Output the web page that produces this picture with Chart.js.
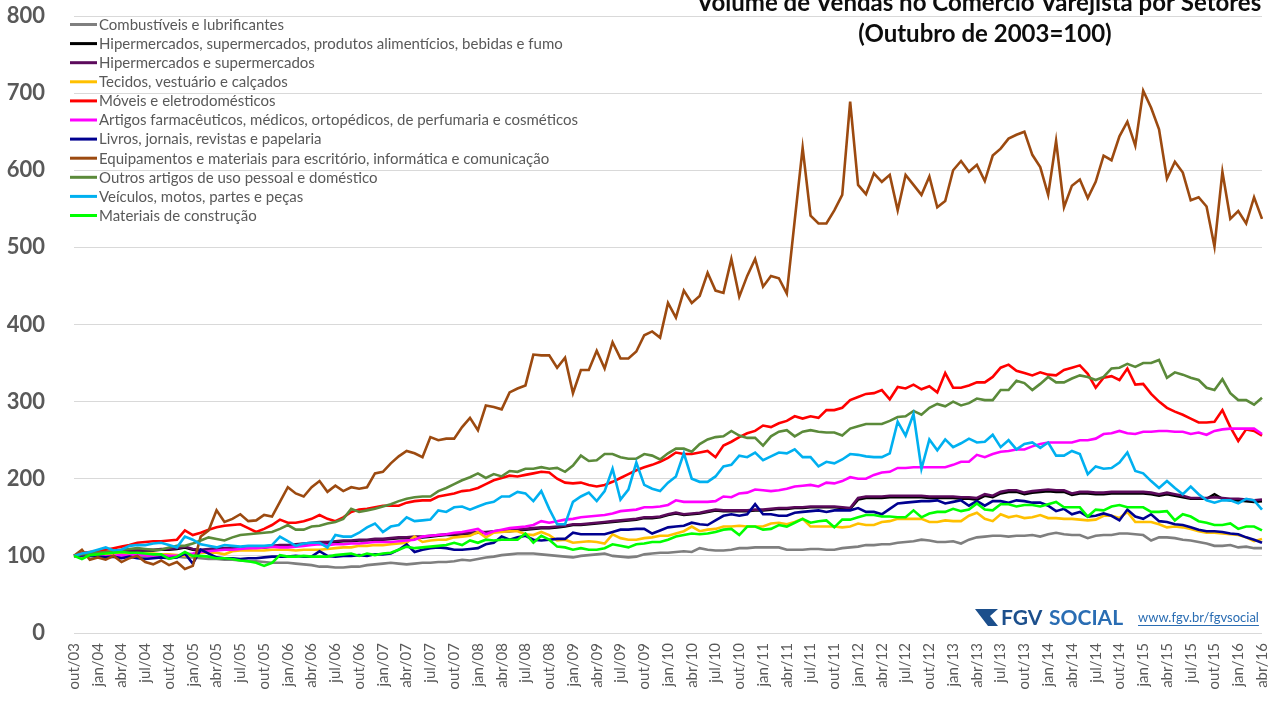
<!DOCTYPE html>
<html>
<head>
<meta charset="utf-8">
<script src="https://cdn.jsdelivr.net/npm/chart.js@4.4.1/dist/chart.umd.min.js"></script>
<style>
  html, body { margin: 0; padding: 0; background: #fff; }
  canvas { display: block; }
</style>
</head>
<body>
<canvas id="chart" width="1283" height="703"></canvas>
<script>
// ── Months: out/03 .. abr/16 ──
const MES = ['jan', 'fev', 'mar', 'abr', 'mai', 'jun', 'jul', 'ago', 'set', 'out', 'nov', 'dez'];
const MONTHS = [];
for (let y = 2003, m = 9; y < 2016 || (y === 2016 && m <= 3); m++) {
  if (m === 12) { m = 0; y++; }
  if (y === 2016 && m > 3) break;
  MONTHS.push(MES[m] + '/' + String(y).slice(2));
}

// ── Series (index, out/2003 = 100) ──
const combustiveis = [
  100,100,101,100,100,99,100,100,100,99,
  100,100,99,99,98,98,97,96,96,95,
  95,94,93,93,92,91,91,91,90,89,
  88,86,86,85,85,86,86,88,89,90,
  91,90,89,90,91,91,92,92,93,95,
  94,96,98,99,101,102,103,103,103,102,
  101,100,99,98,100,101,102,103,100,99,
  98,99,102,103,104,104,105,106,105,110,
  108,107,107,108,110,110,111,111,111,111,
  108,108,108,109,109,108,108,110,111,112,
  114,114,115,115,117,118,119,121,120,118,
  118,119,116,121,124,125,126,126,125,126,
  126,127,125,128,130,128,127,127,123,126,
  127,127,129,129,128,127,120,124,124,123,
  121,120,118,116,113,113,114,111,112,110,
  110
];
const hiperAlimentos = [
  100,101,102,103,104,105,105,106,107,107,
  107,108,108,109,111,108,107,108,109,109,
  109,110,110,111,111,112,113,113,114,115,
  116,117,117,118,119,119,120,120,121,121,
  122,123,123,124,124,125,126,127,127,128,
  129,130,130,131,132,132,133,134,135,136,
  136,137,138,140,140,141,142,143,144,145,
  146,147,149,149,150,153,155,153,154,155,
  157,159,158,158,158,158,159,159,160,161,
  161,162,162,163,163,163,163,162,161,173,
  175,175,175,176,176,176,176,176,175,175,
  175,175,174,174,173,178,176,181,183,183,
  180,182,183,184,183,183,179,181,181,180,
  180,181,181,181,181,181,180,178,180,178,
  176,174,174,174,180,174,172,172,171,170,
  171
];
const hiper = [
  100,101,103,104,105,105,106,107,107,108,
  108,109,109,110,112,109,108,109,110,110,
  110,111,111,112,112,113,114,114,115,116,
  117,118,118,119,120,120,121,121,122,122,
  123,124,124,125,125,126,127,128,128,129,
  130,131,131,132,133,133,134,135,136,137,
  137,138,139,141,141,142,143,144,145,146,
  147,148,150,150,151,154,156,154,155,156,
  158,160,159,159,159,159,160,160,161,162,
  162,163,163,164,164,164,164,163,162,175,
  177,177,177,178,178,178,178,178,177,177,
  177,177,176,176,175,180,178,183,185,185,
  182,184,185,186,185,185,181,183,183,182,
  182,183,183,183,183,183,182,180,182,180,
  178,175,175,175,176,175,174,174,173,172,
  173
];
const tecidos = [
  100,99,100,101,101,103,103,103,103,103,
  103,102,102,101,100,100,104,104,104,102,
  106,107,107,107,107,108,108,108,107,108,
  108,108,109,110,111,111,113,113,114,114,
  115,116,117,125,118,120,121,121,124,125,
  126,131,124,130,131,132,132,128,127,131,
  127,120,121,117,118,119,118,116,128,123,
  121,121,123,124,126,126,129,132,138,132,
  134,135,138,138,139,138,138,138,142,143,
  141,144,148,138,138,138,138,137,138,142,
  140,140,144,145,148,148,148,148,144,144,
  146,145,145,152,156,148,145,154,150,152,
  149,150,153,149,149,148,148,147,146,147,
  152,152,149,157,144,144,144,141,137,138,
  137,135,132,130,130,129,128,127,124,119,
  122
];
const moveis = [
  100,104,105,106,108,110,112,114,117,118,
  119,119,120,121,133,127,130,134,137,139,
  140,141,136,131,135,140,147,143,143,145,
  148,153,148,145,150,157,160,161,163,165,
  165,165,169,171,172,172,177,179,181,184,
  185,188,193,198,201,204,203,205,207,209,
  208,200,195,194,195,192,190,192,196,201,
  206,211,215,218,222,227,234,232,232,234,
  236,228,243,248,254,259,262,269,267,272,
  275,281,278,281,279,289,289,292,302,306,
  310,311,315,303,319,317,322,316,320,312,
  337,318,318,321,325,325,332,344,348,340,
  337,334,338,335,334,341,344,347,336,318,
  331,333,328,343,322,323,310,300,292,287,
  283,278,273,273,274,289,267,249,264,262,
  256
];
const farmaceuticos = [
  100,101,100,101,99,100,101,100,102,101,
  99,101,100,100,102,103,105,106,107,108,
  108,109,110,110,111,112,111,111,112,113,
  114,115,114,115,115,116,116,117,118,118,
  118,119,120,121,125,126,127,128,130,131,
  133,135,128,132,134,136,137,138,140,145,
  143,145,147,148,150,151,152,153,155,158,
  159,160,163,163,164,166,172,170,170,170,
  170,171,177,176,181,182,186,185,184,185,
  187,190,191,192,190,195,194,197,202,200,
  200,205,208,209,214,214,215,215,215,215,
  215,218,222,222,231,228,232,235,236,238,
  238,242,245,247,247,247,247,250,250,252,
  258,259,262,259,258,261,261,262,262,261,
  261,258,260,257,262,264,265,265,265,265,
  258
];
const livros = [
  100,101,100,99,98,99,97,99,97,96,
  97,98,97,98,103,90,108,103,98,97,
  97,96,97,97,98,99,99,99,100,99,
  99,106,100,99,100,100,101,100,102,102,
  103,108,115,105,108,110,111,110,108,108,
  109,110,115,117,125,121,124,126,121,120,
  121,122,122,130,128,128,128,128,131,134,
  134,135,135,129,133,137,138,139,143,141,
  140,146,152,154,152,154,167,154,154,152,
  152,156,157,158,159,157,159,159,159,162,
  157,157,154,161,168,169,170,171,171,172,
  168,170,172,165,171,165,171,171,169,172,
  171,169,169,165,158,161,154,157,151,152,
  155,152,146,160,151,148,154,145,144,141,
  140,137,134,132,132,131,129,128,124,121,
  117
];
const informatica = [
  100,108,95,98,95,100,92,97,100,92,
  89,94,88,92,83,87,125,133,159,144,
  148,154,145,146,153,151,170,189,181,177,
  189,197,183,191,184,189,187,189,207,209,
  220,229,236,233,228,254,250,252,252,267,
  279,263,295,293,290,312,317,321,361,360,
  360,344,357,311,341,341,366,343,377,356,
  356,365,386,391,383,428,409,444,428,437,
  467,444,441,485,436,463,485,449,463,460,
  440,535,629,541,531,531,548,568,689,581,
  569,596,585,594,548,594,581,568,592,552,
  560,600,612,598,607,586,619,628,641,646,
  650,620,604,568,638,552,580,588,564,585,
  619,613,644,663,632,703,681,653,589,611,
  597,561,565,553,501,598,537,547,531,565,
  537
];
const outros = [
  100,102,103,104,105,106,108,109,110,109,
  108,108,111,113,113,116,120,124,122,120,
  124,127,128,129,130,131,135,140,134,134,
  138,139,142,144,148,161,157,159,161,164,
  167,171,174,176,177,177,184,188,193,198,
  202,207,201,206,203,210,209,213,213,215,
  213,214,209,217,230,223,224,232,232,228,
  226,226,232,230,225,233,239,239,235,245,
  251,254,255,262,256,253,253,243,255,261,
  263,255,261,263,261,260,260,256,265,268,
  271,271,271,275,280,281,288,283,292,297,
  294,300,295,298,304,302,302,315,315,327,
  324,315,323,332,325,325,330,334,332,328,
  332,343,344,349,345,350,350,354,331,338,
  335,331,328,318,315,329,311,302,302,296,
  305
];
const veiculos = [
  100,103,105,108,111,107,108,113,114,114,
  116,117,114,111,125,121,115,113,111,114,
  113,112,113,113,113,114,125,119,113,116,
  117,117,111,127,125,125,130,137,142,131,
  138,140,150,145,146,147,159,157,163,164,
  160,164,168,170,177,177,183,181,171,184,
  161,141,141,170,177,182,171,184,213,173,
  186,221,192,187,184,195,203,233,200,196,
  196,203,216,218,230,228,234,224,229,234,
  233,238,228,228,216,222,220,225,232,231,
  229,228,228,233,274,256,284,213,251,237,
  251,241,246,252,247,248,257,241,250,238,
  245,247,240,247,230,230,236,232,206,216,
  213,214,221,234,210,207,197,188,197,188,
  180,190,180,172,169,172,172,168,174,172,
  160
];
const construcao = [
  100,96,101,102,103,104,105,104,104,103,
  102,102,96,99,105,100,100,99,97,97,
  96,94,93,91,87,91,101,99,99,100,
  99,99,99,101,102,103,100,103,101,103,
  104,108,112,110,111,112,113,114,117,114,
  120,117,121,120,121,121,121,129,117,126,
  121,112,111,108,110,108,108,110,115,113,
  111,115,116,118,118,121,125,127,129,128,
  129,131,134,135,127,138,138,134,135,140,
  138,143,148,143,145,146,137,147,147,150,
  153,153,151,151,150,150,159,150,155,157,
  157,161,158,160,168,160,159,167,167,164,
  166,166,164,167,170,163,163,163,151,160,
  159,164,166,163,163,163,157,157,158,146,
  154,151,145,143,140,140,142,135,138,138,
  133
];

const SERIES = [
  ['Combustíveis e lubrificantes', combustiveis, '#7f7f7f'],
  ['Hipermercados, supermercados, produtos alimentícios, bebidas e fumo', hiperAlimentos, '#000000'],
  ['Hipermercados e supermercados', hiper, '#5c0a5c'],
  ['Tecidos, vestuário e calçados', tecidos, '#ffc000'],
  ['Móveis e eletrodomésticos', moveis, '#ff0000'],
  ['Artigos farmacêuticos, médicos, ortopédicos, de perfumaria e cosméticos', farmaceuticos, '#ff00ff'],
  ['Livros, jornais, revistas e papelaria', livros, '#000090'],
  ['Equipamentos e materiais para escritório, informática e comunicação', informatica, '#9c4a10'],
  ['Outros artigos de uso pessoal e doméstico', outros, '#5b8a3a'],
  ['Veículos, motos, partes e peças', veiculos, '#00b0f0'],
  ['Materiais de construção', construcao, '#00ff00']
];

const TITLE_1 = 'Volume de Vendas no Comércio Varejista por Setores';
const TITLE_2 = '(Outubro de 2003=100)';

// ── Title, legend and logo drawn over the chart ──
const overlay = {
  id: 'overlay',
  afterDraw(chart) {
    const c = chart.ctx;
    c.save();
    c.fillStyle = '#0d0d0d';
    c.textAlign = 'center';
    c.textBaseline = 'alphabetic';
    c.font = 'bold 24px Lato';
    c.fillText(TITLE_1, 979, 11);
    c.fillText(TITLE_2, 985, 42);

    // legend
    c.textAlign = 'left';
    c.textBaseline = 'middle';
    c.font = '15px Lato';
    SERIES.forEach((s, i) => {
      const y = 24.5 + i * 19.1;
      c.strokeStyle = s[2];
      c.lineWidth = 3;
      c.beginPath(); c.moveTo(70, y); c.lineTo(97, y); c.stroke();
      c.fillStyle = '#595959';
      c.fillText(s[0], 99, y + 0.5);
    });

    // logo
    c.fillStyle = '#1c4f8c';
    c.beginPath();
    c.moveTo(975, 609); c.lineTo(998, 609); c.lineTo(990, 616); c.lineTo(998, 626);
    c.lineTo(988, 626); c.closePath(); c.fill();
    c.font = 'bold 21px Lato';
    c.fillText('FGV', 1001, 618);
    c.fillStyle = '#2a6db3';
    c.fillText('SOCIAL', 1049, 618);
    c.font = '13px Lato';
    c.fillStyle = '#2a6db3';
    c.fillText('www.fgv.br/fgvsocial', 1138, 618);
    const w = c.measureText('www.fgv.br/fgvsocial').width;
    c.fillRect(1138, 625, w, 1);
    c.restore();
  }
};

const datasets = SERIES.map((s, i) => ({
  label: s[0],
  data: s[1],
  borderColor: s[2],
  backgroundColor: s[2],
  borderWidth: 2.6,
  pointRadius: 0,
  tension: 0,
  fill: false,
  order: SERIES.length - 1 - i
}));

new Chart(document.getElementById('chart').getContext('2d'), {
  type: 'line',
  data: { labels: MONTHS, datasets },
  options: {
    responsive: false,
    animation: false,
    layout: { padding: { left: 0, right: 21, top: 16, bottom: 0 } },
    plugins: { legend: { display: false }, tooltip: { enabled: false }, title: { display: false } },
    scales: {
      x: {
        grid: { display: false, drawTicks: false },
        border: { display: false },
        ticks: {
          autoSkip: false, minRotation: 90, maxRotation: 90, padding: 10,
          color: '#595959', font: { family: 'Lato', size: 15 },
          callback: (v, i) => (i % 3 === 0 ? MONTHS[i] : '')
        },
        afterFit: s => { s.height = 70; s.paddingTop = 0; s.paddingBottom = 0; s.paddingLeft = 0; s.paddingRight = 0; }
      },
      y: {
        min: 0, max: 800,
        grid: { color: '#d9d9d9', lineWidth: 1, drawTicks: false },
        border: { display: false },
        ticks: {
          stepSize: 100, padding: 29,
          color: '#595959', font: { family: 'Lato', size: 22, weight: 'bold' }
        },
        afterFit: s => { s.width = 74; s.paddingTop = 0; s.paddingBottom = 0; }
      }
    }
  },
  plugins: [overlay]
});
</script>
</body>
</html>
